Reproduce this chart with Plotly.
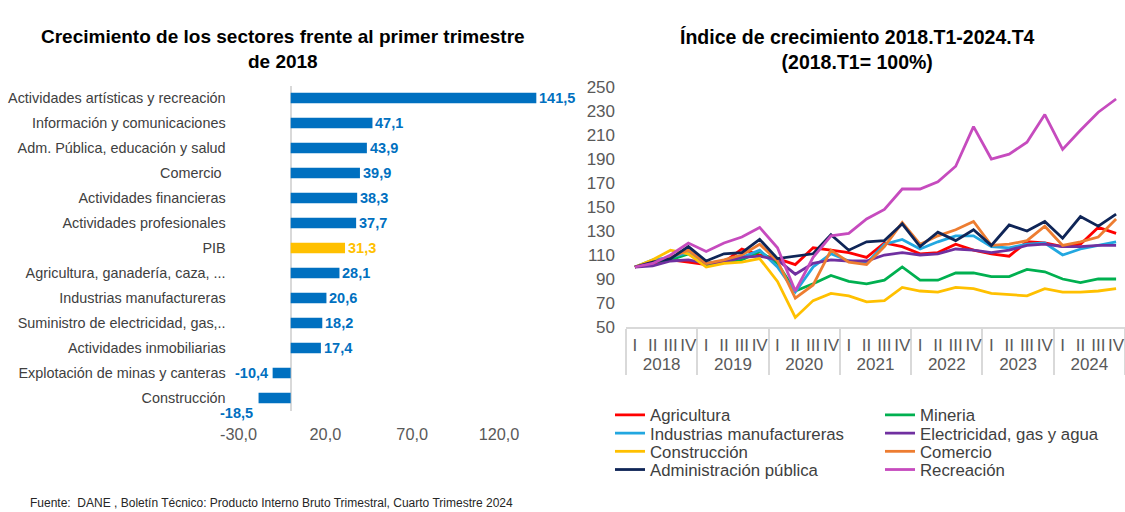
import plotly.graph_objects as go

# ---------------- data: left bar chart ----------------
sectores = [
    "Actividades artísticas y recreación",
    "Información y comunicaciones",
    "Adm. Pública, educación y salud",
    "Comercio ",
    "Actividades financieras",
    "Actividades profesionales",
    "PIB",
    "Agricultura, ganadería, caza, ...",
    "Industrias manufactureras",
    "Suministro de electricidad, gas,..",
    "Actividades inmobiliarias",
    "Explotación de minas y canteras",
    "Construcción",
]
crecimiento = [141.5, 47.1, 43.9, 39.9, 38.3, 37.7, 31.3, 28.1, 20.6, 18.2, 17.4, -10.4, -18.5]
bar_tickvals = [-30, 20, 70, 120]
bar_ticktext = ["-30,0", "20,0", "70,0", "120,0"]

# ---------------- data: right line chart ----------------
anios = ["2018", "2019", "2020", "2021", "2022", "2023", "2024"]
trimestres = ["I", "II", "III", "IV"]

agricultura = [100, 103, 106, 104, 102, 104, 115, 110, 107, 102, 116, 114, 112, 108, 120, 117, 111, 112, 119, 114, 111, 109, 121, 120, 117, 119, 133, 128]
mineria = [100, 104, 106, 111, 102, 104, 106, 113, 103, 80, 86, 93, 88, 86, 89, 100, 89, 89, 95, 95, 92, 92, 98, 96, 90, 87, 90, 90]
industrias = [100, 106, 108, 112, 103, 105, 108, 114, 100, 79, 100, 111, 105, 103, 119, 123, 115, 121, 126, 126, 117, 116, 119, 120, 110, 115, 118, 121]
electricidad = [100, 101, 105, 106, 103, 104, 108, 109, 106, 94, 103, 106, 105, 105, 110, 112, 110, 111, 115, 114, 112, 114, 118, 119, 117, 117, 118, 118]
construccion = [100, 106, 114, 111, 100, 103, 104, 107, 88, 58, 72, 78, 76, 71, 72, 83, 80, 79, 83, 82, 78, 77, 76, 82, 79, 79, 80, 82]
comercio = [100, 104, 108, 114, 103, 106, 110, 119, 105, 74, 85, 114, 104, 102, 117, 137, 119, 126, 131, 138, 118, 119, 122, 134, 118, 121, 125, 140]
administracion = [100, 104, 107, 117, 105, 111, 112, 123, 107, 109, 111, 127, 114, 121, 122, 136, 117, 129, 122, 131, 118, 135, 130, 138, 124, 142, 134, 144]
recreacion = [100, 103, 110, 120, 113, 120, 125, 133, 116, 80, 108, 126, 128, 140, 148, 165, 165, 171, 184, 217, 190, 194, 204, 227, 198, 214, 229, 240]

# (name, values, colour, legend row)
series = [
    ("Agricultura", agricultura, "#FF0000", "legend"),
    ("Mineria", mineria, "#00B050", "legend"),
    ("Industrias manufactureras", industrias, "#22A7E0", "legend2"),
    ("Electricidad, gas y agua", electricidad, "#7030A0", "legend2"),
    ("Construcción", construccion, "#FFC000", "legend3"),
    ("Comercio", comercio, "#ED7D31", "legend3"),
    ("Administración pública", administracion, "#0F2557", "legend4"),
    ("Recreación", recreacion, "#C64BBE", "legend4"),
]

FONT = "Liberation Sans, Arial, sans-serif"
W, H = 1125, 512

fig = go.Figure()

# bar chart
bar_colors = ["#FFC000" if s == "PIB" else "#0070C0" for s in sectores]
fig.add_trace(go.Bar(
    x=crecimiento, y=sectores, orientation="h",
    marker=dict(color=bar_colors, line=dict(width=0)),
    width=0.42, xaxis="x", yaxis="y", showlegend=False,
))

# data labels for bars
for s, v, c in zip(sectores, crecimiento, bar_colors):
    txt = f"{v:.1f}".replace(".", ",")
    if v >= 0:
        fig.add_annotation(x=v, y=s, xref="x", yref="y", text=f"<b>{txt}</b>",
                           showarrow=False, xanchor="left", xshift=1,
                           font=dict(family=FONT, size=14.5, color=c))
    elif v > -15:
        fig.add_annotation(x=v, y=s, xref="x", yref="y", text=f"<b>{txt}</b>",
                           showarrow=False, xanchor="right", xshift=-3,
                           font=dict(family=FONT, size=14.5, color=c))
    else:
        fig.add_annotation(x=v, y=s, xref="x", yref="y", text=f"<b>{txt}</b>",
                           showarrow=False, xanchor="right", xshift=-4, yshift=-15,
                           font=dict(family=FONT, size=14.5, color=c))

# line chart
xcat = [[a for a in anios for q in trimestres], [q for a in anios for q in trimestres]]
n_periodos = len(anios) * len(trimestres)
for name, vals, col, lg in series:
    fig.add_trace(go.Scatter(
        x=xcat, y=vals, mode="lines", name=name,
        line=dict(color=col, width=2.8),
        xaxis="x2", yaxis="y2", legend=lg,
    ))

legend_rows = {}
for i, key in enumerate(["legend", "legend2", "legend3", "legend4"]):
    legend_rows[key] = dict(
        x=610 / W, y=1 - (415 + 18.2 * i) / H, xanchor="left", yanchor="middle",
        orientation="h", entrywidth=225, entrywidthmode="pixels",
        bgcolor="rgba(0,0,0,0)", itemwidth=30, borderwidth=0,
        font=dict(family=FONT, size=16.8, color="#404040"), tracegroupgap=0,
    )

fig.update_layout(
    width=W, height=H,
    margin=dict(l=0, r=0, t=0, b=0, autoexpand=False),
    paper_bgcolor="white", plot_bgcolor="white",
    font=dict(family=FONT, color="#595959"),
    xaxis=dict(
        domain=[238.6 / W, 542.4 / W], range=[-30, 145],
        tickvals=bar_tickvals, ticktext=bar_ticktext,
        showgrid=False, zeroline=True, zerolinecolor="#D9D9D9", zerolinewidth=1.5,
        showline=False, ticks="", ticklabelstandoff=12, automargin=False,
        tickfont=dict(family=FONT, size=16.3, color="#595959"),
        anchor="y",
    ),
    yaxis=dict(
        domain=[1 - 410.5 / H, 1 - 85.5 / H],
        autorange="reversed", type="category",
        showgrid=False, showline=False, ticks="", ticklabelstandoff=12, automargin=False,
        tickfont=dict(family=FONT, size=14.4, color="#404040"),
        anchor="x",
    ),
    xaxis2=dict(
        domain=[626 / W, 1.0], type="multicategory",
        range=[-0.5, n_periodos - 0.5],
        showgrid=False, showline=True, linecolor="#D9D9D9", linewidth=1.5,
        showdividers=True, dividercolor="#D9D9D9", dividerwidth=1.5,
        tickmode="linear", dtick=1, tick0=0, tickangle=0, ticklabelstandoff=2,
        ticks="", automargin=False, tickfont=dict(family=FONT, size=17, color="#595959"),
        anchor="y2",
    ),
    yaxis2=dict(
        domain=[1 - 327 / H, 1 - 87 / H], range=[50, 250],
        tickvals=list(range(50, 251, 20)),
        showgrid=False, zeroline=False, showline=False, ticks="",
        ticklabelstandoff=10, automargin=False,
        tickfont=dict(family=FONT, size=17, color="#595959"),
        anchor="x2",
    ),
    **legend_rows,
)

# titles
fig.add_annotation(x=283 / W, y=1 - 49 / H, xref="paper", yref="paper",
                   text="<b>Crecimiento de los sectores frente al primer trimestre<br>de 2018</b>",
                   showarrow=False, xanchor="center", yanchor="middle", align="center",
                   font=dict(family=FONT, size=19, color="#000000"))
fig.add_annotation(x=857 / W, y=1 - 49 / H, xref="paper", yref="paper",
                   text="<b>Índice de crecimiento 2018.T1-2024.T4<br>(2018.T1= 100%)</b>",
                   showarrow=False, xanchor="center", yanchor="middle", align="center",
                   font=dict(family=FONT, size=19.5, color="#000000"))
# source
fig.add_annotation(x=28 / W, y=1 - 503 / H, xref="paper", yref="paper",
                   text="Fuente:  DANE , Boletín Técnico: Producto Interno Bruto Trimestral, Cuarto Trimestre 2024",
                   showarrow=False, xanchor="left", yanchor="middle",
                   font=dict(family=FONT, size=12, color="#262626"))

fig.write_html("out.html", post_script="document.body.style.margin='0px';",
               config={"displayModeBar": False})
